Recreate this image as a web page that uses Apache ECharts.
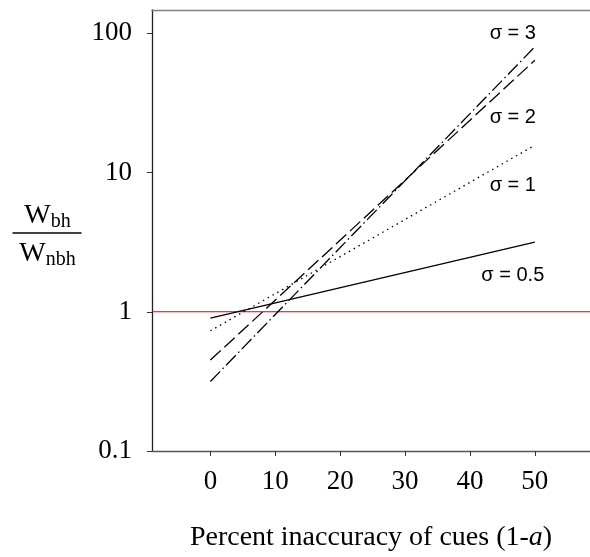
<!DOCTYPE html>
<html>
<head>
<meta charset="utf-8">
<script src="https://cdn.jsdelivr.net/npm/echarts@6/dist/echarts.min.js"></script>
<style>
  html, body { margin: 0; padding: 0; background: #fff; }
  #chart { width: 590px; height: 557px; }
</style>
</head>
<body>
<div id="chart"></div>
<script>
  // x = percent inaccuracy of cues, y = Wbh / Wnbh (log scale)
  var xValues = [0, 50]
  var sigma05 = [0.9, 3.16]
  var sigma1 = [0.73, 15.7]
  var sigma2 = [0.45, 64]
  var sigma3 = [0.316, 80]
  var xTicks = [0, 10, 20, 30, 40, 50]
  var yTicks = [0.1, 1, 10, 100]
  var xRange = [-9, 58.5]
  var refLevel = 1
  // where the σ labels sit, in data units
  var labelPos = {
    '0.5': [46.6, 1.82],
    '1': [46.6, 8.1],
    '2': [46.6, 25],
    '3': [46.6, 100]
  }

  var serif = 'Liberation Serif'
  var sans = 'Liberation Sans'

  function pairs(ys) {
    return xValues.map(function (x, i) { return [x, ys[i]] })
  }

  function makeLine(name, ys, dash, key) {
    return {
      name: name,
      type: 'line',
      data: pairs(ys),
      symbol: 'none',
      silent: true,
      z: 3,
      lineStyle: { color: '#000', width: 1.3, type: dash },
      markPoint: {
        symbol: 'circle',
        symbolSize: 0,
        silent: true,
        label: {
          show: true,
          position: 'inside',
          formatter: name,
          color: '#000',
          fontFamily: sans,
          fontSize: 20
        },
        data: [{ coord: labelPos[key] }]
      }
    }
  }

  var chart = echarts.init(document.getElementById('chart'))
  var series = [
    {
      // red reference line at 1
      name: 'ref',
      type: 'line',
      data: [[xRange[0], refLevel], [xRange[1], refLevel]],
      symbol: 'none',
      silent: true,
      z: 2,
      lineStyle: { color: '#e00000', width: 1.2, type: 'solid' }
    },
    makeLine('σ = 0.5', sigma05, 'solid', '0.5'),
    makeLine('σ = 1', sigma1, [1.5, 4], '1'),
    makeLine('σ = 2', sigma2, [14, 5], '2'),
    makeLine('σ = 3', sigma3, [14, 3.5, 1.5, 3.5], '3')
  ]

  var subRich = {
    w: { fontFamily: serif, fontSize: 28, fill: '#000' },
    s: { fontFamily: serif, fontSize: 20, fill: '#000', verticalAlign: 'bottom', padding: [12, 0, 0, 0] }
  }

  chart.setOption({
    animation: false,
    grid: { left: 152, top: 10, right: 0, bottom: 104 },
    xAxis: [{
      type: 'value',
      min: xRange[0],
      max: xRange[1],
      splitLine: { show: false },
      axisLine: { onZero: false, lineStyle: { color: '#555', width: 1.3 } },
      axisTick: { show: true, length: 5, customValues: xTicks, lineStyle: { color: '#333' } },
      axisLabel: {
        customValues: xTicks,
        margin: 17,
        color: '#000',
        fontFamily: serif,
        fontSize: 27
      },
      name: '{n|Percent inaccuracy of cues (1-}{i|a}{n|)}',
      nameLocation: 'middle',
      nameGap: 73,
      nameTextStyle: {
        rich: {
          n: { fontFamily: serif, fontSize: 28, color: '#000' },
          i: { fontFamily: serif, fontSize: 28, color: '#000', fontStyle: 'italic' }
        }
      }
    }, {
      // top border
      type: 'value',
      position: 'top',
      min: xRange[0],
      max: xRange[1],
      splitLine: { show: false },
      axisLine: { onZero: false, lineStyle: { color: '#808080', width: 1.3 } },
      axisTick: { show: false },
      axisLabel: { show: false }
    }],
    yAxis: {
      type: 'log',
      logBase: 10,
      min: 0.1,
      max: 147,
      splitLine: { show: false },
      axisLine: { show: true, onZero: false, lineStyle: { color: '#222', width: 1.3 } },
      axisTick: { show: true, length: 5, customValues: yTicks, lineStyle: { color: '#333' } },
      axisLabel: {
        customValues: yTicks,
        margin: 20,
        color: '#000',
        fontFamily: serif,
        fontSize: 27
      }
    },
    graphic: [{
      type: 'group',
      left: 10,
      top: 202,
      children: [{
        type: 'text',
        x: 35, y: 0,
        style: { text: '{w|W}{s|bh}', align: 'center', rich: subRich }
      }, {
        type: 'line',
        shape: { x1: 0, y1: 33, x2: 69, y2: 33 },
        style: { stroke: '#000', lineWidth: 1.5 }
      }, {
        type: 'text',
        x: 35, y: 38,
        style: { text: '{w|W}{s|nbh}', align: 'center', rich: subRich }
      }]
    }],
    series: series
  })
</script>
</body>
</html>
